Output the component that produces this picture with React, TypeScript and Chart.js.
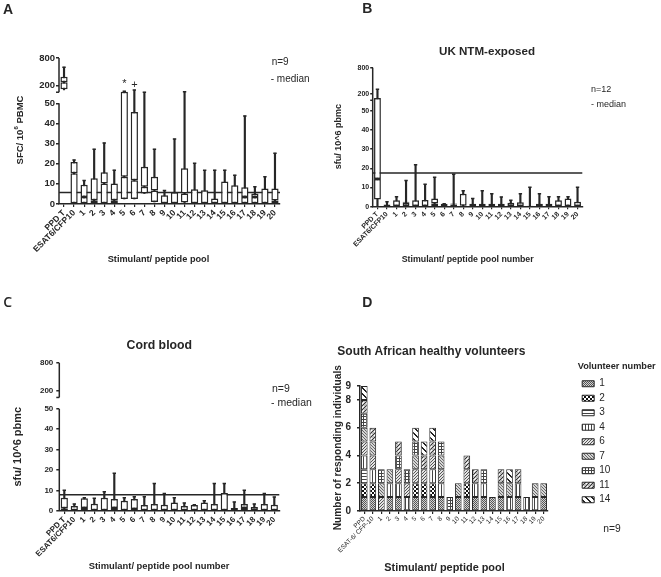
import React, { useEffect, useRef } from 'react';
import { Chart, registerables, LinearScale } from 'chart.js';

Chart.register(...registerables);

const FONT = "'Liberation Sans', Arial, Helvetica, sans-serif";
const INK = '#262626';

// ---------- shared categories / ticks ----------
const POOLS = ['1', '2', '3', '4', '5', '6', '7', '8', '9', '10', '11', '12', '13', '14', '15', '16', '17', '18', '19', '20'];
const LABELS_ABC = ['PPD T', 'ESAT6/CFP10', ...POOLS];
const LABELS_D = ['PPD', 'ESAT-6/ CFP-10', ...POOLS];
const BROKEN_TICKS = [0, 10, 20, 30, 40, 50, 200, 800];
const D_TICKS = [0, 2, 4, 6, 8, 9];

// ---------- Panel A (box plots, n=9) ----------
const A_MIN = [105, 0, 0, 0, 0, 0, 2.5, 2.5, 5.2, 1.0, 0, 0, 0.7, 0, 0, 0, 0, 0, 0, 0, 0, 0];
const A_Q1 = [120, 0, 0, 0, 0, 0, 2.5, 2.5, 5.2, 1.0, 0, 0, 0.7, 0, 0, 0, 0, 0, 0, 0, 0, 0];
const A_MED = [270, 15.3, 3.5, 1.8, 10.2, 1.8, 13.5, 11.8, 8.5, 6.7, 0, 0, 5.2, 0, 0, 0, 0, 0, 3.5, 3.5, 0, 1.7];
const A_Q3 = [390, 20.8, 9.5, 12.8, 15.7, 10.2, 94, 45.7, 18.5, 13.5, 4.3, 5.8, 17.8, 7.3, 6.8, 2.7, 11.2, 9.3, 8.3, 5.2, 7.7, 7.7];
const A_MAX = [600, 21.8, 11.7, 27.2, 30.3, 16.8, 96, 100, 92, 27.2, 6.7, 32.2, 94, 20.2, 16.7, 16.8, 16.8, 14.3, 43.7, 8.5, 13.5, 25.2];
const A_CUTOFF = 5.7;

// ---------- Panel B (UK NTM-exposed, n=12) ----------
const B_MIN = [0, 0, 0, 0, 0, 0, 0, 0, 0, 0, 0, 0, 0, 0, 0, 0, 0, 0, 0, 0, 0, 0];
const B_Q1 = [3.7, 0, 0, 0, 0, 0, 0, 0, 0, 0, 0, 0, 0, 0, 0, 0, 0, 0, 0, 0, 0, 0];
const B_MED = [14.4, 0, 0, 2.0, 0, 0, 1.7, 0, 1.2, 0.5, 0, 0, 0, 0, 0, 0, 0, 0, 0, 0, 0, 0];
const B_Q3 = [105, 1.2, 3.3, 2.6, 3.3, 3.5, 4.3, 1.6, 1.7, 6.8, 1.6, 1.6, 1.6, 1.6, 2.1, 2.3, 0.5, 1.6, 1.6, 3.3, 4.3, 2.6];
const B_MAX = [307, 2.6, 5.2, 13.6, 21.9, 11.7, 15.3, 1.6, 16.9, 8.3, 4.3, 8.3, 6.8, 5.0, 3.3, 6.8, 10.1, 6.8, 5.2, 5.2, 5.2, 10.1];
const B_CUTOFF = 17.6;

// ---------- Panel C (Cord blood, n=9) ----------
const C_MIN = [0, 0, 0, 0, 0, 0, 0, 0, 0, 0, 0, 0, 0, 0, 0, 0, 0, 0, 0, 0, 0, 0];
const C_Q1 = [0, 0, 0, 0, 0, 0, 0, 0, 0, 0, 0, 0, 0, 0, 0, 0, 0, 0, 0, 0, 0, 0];
const C_MED = [1.3, 0, 1.5, 0, 0, 1.5, 0, 1.0, 0, 0, 0, 0, 0, 0, 0, 0, 0, 0, 1.5, 0, 0, 0];
const C_Q3 = [6.5, 2.4, 6.2, 3.6, 6.5, 5.9, 5.0, 5.9, 2.9, 3.4, 3.1, 4.2, 2.4, 2.9, 4.1, 3.4, 8.8, 1.5, 3.4, 2.0, 3.4, 3.1];
const C_MAX = [10.1, 3.4, 6.5, 6.2, 9.4, 18.4, 6.5, 7.0, 7.0, 13.4, 8.5, 6.5, 3.9, 3.1, 5.0, 13.4, 13.4, 4.4, 10.1, 3.4, 8.5, 6.8];
const C_CUTOFF = 8.0;

// ---------- Panel D (responders per volunteer, 1 = responded) ----------
const VOLUNTEERS = ['1', '2', '3', '4', '6', '7', '10', '11', '14'];
const VOL_1 = [1, 1, 0, 1, 1, 0, 1, 1, 1, 1, 0, 1, 1, 1, 1, 1, 1, 0, 1, 0, 0, 1];
const VOL_2 = [1, 1, 0, 0, 0, 0, 1, 1, 1, 0, 0, 0, 1, 0, 0, 0, 0, 0, 0, 0, 0, 0];
const VOL_3 = [1, 0, 0, 0, 0, 0, 0, 0, 0, 0, 0, 0, 0, 0, 0, 0, 0, 0, 0, 0, 0, 0];
const VOL_4 = [1, 1, 0, 1, 1, 1, 0, 0, 1, 1, 0, 0, 0, 1, 1, 0, 0, 1, 1, 1, 1, 0];
const VOL_6 = [1, 1, 1, 0, 1, 1, 1, 1, 1, 1, 0, 0, 1, 0, 0, 0, 0, 0, 0, 0, 0, 0];
const VOL_7 = [1, 1, 1, 1, 0, 0, 1, 0, 0, 1, 0, 1, 0, 0, 0, 0, 1, 1, 0, 0, 1, 1];
const VOL_10 = [1, 0, 1, 0, 1, 1, 1, 0, 0, 1, 1, 0, 0, 0, 1, 0, 0, 0, 0, 0, 0, 0];
const VOL_11 = [1, 1, 0, 0, 1, 0, 0, 1, 1, 0, 0, 0, 1, 1, 0, 0, 1, 0, 1, 0, 0, 0];
const VOL_14 = [1, 0, 0, 0, 0, 0, 1, 1, 1, 0, 0, 0, 0, 0, 0, 0, 0, 1, 0, 0, 0, 0];
const VOL_DATA = [VOL_1, VOL_2, VOL_3, VOL_4, VOL_6, VOL_7, VOL_10, VOL_11, VOL_14];
const VOL_PATTERNS = ['fine', 'checker', 'hline', 'vline', 'diagUp', 'diagDown', 'grid', 'dash', 'wide'];

// ---------- broken (segmented) y scale ----------
const BRK_LOW = 50;
const BRK_HIGH = 100;
const BRK_MAX = 800;
const F_LOW = 0.69;
const F_HIGH = 0.78;
const BRK_AXIS_RESUME = 92;

function toFrac(v: number) {
  if (v <= BRK_LOW) return (v / BRK_LOW) * F_LOW;
  if (v <= BRK_HIGH) return F_LOW + ((v - BRK_LOW) / (BRK_HIGH - BRK_LOW)) * (F_HIGH - F_LOW);
  return F_HIGH + ((v - BRK_HIGH) / (BRK_MAX - BRK_HIGH)) * (1 - F_HIGH);
}
function fromFrac(f: number) {
  if (f <= F_LOW) return (f / F_LOW) * BRK_LOW;
  if (f <= F_HIGH) return BRK_LOW + ((f - F_LOW) / (F_HIGH - F_LOW)) * (BRK_HIGH - BRK_LOW);
  return BRK_HIGH + ((f - F_HIGH) / (1 - F_HIGH)) * (BRK_MAX - BRK_HIGH);
}

class BrokenScale extends (LinearScale as any) {
  static id = 'broken';
  buildTicks() {
    this.min = 0;
    this.max = BRK_MAX;
    return BROKEN_TICKS.map((v) => ({ value: v }));
  }
  getPixelForValue(value: number) {
    if (value === null || value === undefined || Number.isNaN(value)) return NaN;
    return this.getPixelForDecimal(toFrac(value));
  }
  getValueForPixel(pixel: number) {
    return fromFrac(this.getDecimalForPixel(pixel));
  }
}
Chart.register(BrokenScale as any);

// ---------- helper plugins ----------
type Part = { t: string; sup?: boolean };
type TextItem = {
  text?: string; parts?: Part[]; x: number; y: number; size: number;
  weight?: string; family?: string; align?: 'left' | 'center' | 'right'; rot?: number;
};
type Marker = { index: number; text: string; y: number; size: number };

function makeTextPlugin(items: TextItem[], markers: Marker[] = []) {
  return {
    id: 'panelText',
    afterDraw(chart: any) {
      const ctx = chart.ctx as CanvasRenderingContext2D;
      for (const it of items) {
        ctx.save();
        ctx.translate(it.x, it.y);
        if (it.rot) ctx.rotate(it.rot);
        ctx.fillStyle = INK;
        ctx.textBaseline = 'middle';
        ctx.textAlign = 'left';
        const fam = it.family || FONT;
        const w = it.weight || 'normal';
        const parts = it.parts || [{ t: it.text || '' }];
        const fontFor = (p: Part) => `${w} ${p.sup ? it.size * 0.65 : it.size}px ${fam}`;
        let total = 0;
        for (const p of parts) { ctx.font = fontFor(p); total += ctx.measureText(p.t).width; }
        let cx = it.align === 'center' ? -total / 2 : it.align === 'right' ? -total : 0;
        for (const p of parts) {
          ctx.font = fontFor(p);
          ctx.fillText(p.t, cx, p.sup ? -it.size * 0.38 : 0);
          cx += ctx.measureText(p.t).width;
        }
        ctx.restore();
      }
      for (const m of markers) {
        const x = chart.scales.x.getPixelForValue(m.index);
        ctx.save();
        ctx.fillStyle = INK;
        ctx.font = `${m.size}px ${FONT}`;
        ctx.textAlign = 'center';
        ctx.textBaseline = 'middle';
        ctx.fillText(m.text, x, m.y);
        ctx.restore();
      }
    },
  };
}

function makeCutoffPlugin(value: number) {
  return {
    id: 'cutoffLine',
    beforeDatasetsDraw(chart: any) {
      const { ctx, chartArea } = chart;
      const y = chart.scales.y.getPixelForValue(value);
      ctx.save();
      ctx.strokeStyle = INK;
      ctx.lineWidth = 1.5;
      ctx.beginPath();
      ctx.moveTo(chartArea.left, y);
      ctx.lineTo(chartArea.right, y);
      ctx.stroke();
      ctx.restore();
    },
  };
}

function makeAxisPlugin(broken: boolean, tick: number) {
  return {
    id: 'brokenAxis',
    afterDatasetsDraw(chart: any) {
      const { ctx, chartArea } = chart;
      const ys = chart.scales.y;
      const x = chartArea.left;
      ctx.save();
      ctx.strokeStyle = INK;
      ctx.lineWidth = 1.5;
      const seg = (a: number, b: number) => {
        ctx.beginPath();
        ctx.moveTo(x, ys.getPixelForValue(a));
        ctx.lineTo(x, ys.getPixelForValue(b));
        ctx.stroke();
      };
      if (broken) { seg(0, BRK_LOW); seg(BRK_AXIS_RESUME, BRK_MAX); } else { seg(0, BRK_MAX); }
      const py = ys.getPixelForValue(BRK_AXIS_RESUME);
      ctx.beginPath();
      ctx.moveTo(x - tick, py);
      ctx.lineTo(x, py);
      ctx.stroke();
      ctx.restore();
    },
  };
}

// ---------- box plot config ----------
type BoxPanel = {
  min: number[]; q1: number[]; med: number[]; q3: number[]; max: number[]; cutoff: number;
  yWidth: number; xHeight: number; padTop: number; padRight: number;
  yTickSize: number; xTickSize: number; tickLen: number; yPad: number;
  broken: boolean; texts: TextItem[]; markers?: Marker[];
};

function boxConfig(p: BoxPanel): any {
  const boxCommon = {
    type: 'bar', backgroundColor: '#ffffff', borderColor: INK, borderWidth: 1.5,
    borderSkipped: false, grouped: false, barPercentage: 0.72, categoryPercentage: 1, order: 2,
  };
  return {
    type: 'bar',
    data: {
      labels: LABELS_ABC,
      datasets: [
        { type: 'bar', label: 'range', data: p.min.map((m, i) => [m, p.max[i]]), backgroundColor: INK, borderWidth: 0, barThickness: 1.5, grouped: false, order: 3 },
        { ...boxCommon, label: 'Q1-median', data: p.q1.map((v, i) => [v, p.med[i]]) },
        { ...boxCommon, label: 'median-Q3', data: p.med.map((v, i) => [v, p.q3[i]]) },
        { type: 'line', label: 'max', data: p.max, showLine: false, pointStyle: 'line', pointRadius: 1.7, pointHoverRadius: 1.7, pointBorderWidth: 1.5, pointBorderColor: INK, pointBackgroundColor: INK, order: 1 },
      ],
    },
    options: {
      responsive: false, animation: false, devicePixelRatio: 1, events: [],
      layout: { padding: { top: p.padTop, right: p.padRight, left: 0, bottom: 0 } },
      plugins: { legend: { display: false }, tooltip: { enabled: false }, title: { display: false } },
      scales: {
        x: {
          type: 'category', offset: true,
          grid: { display: true, drawOnChartArea: false, drawTicks: true, tickLength: p.tickLen, offset: false, color: INK, lineWidth: 1.2 },
          border: { display: true, color: INK, width: 1.5 },
          ticks: { autoSkip: false, minRotation: 45, maxRotation: 45, padding: 1, color: INK, font: { size: p.xTickSize, weight: 'bold', family: FONT } },
          afterFit: (s: any) => { s.height = p.xHeight; },
        },
        y: {
          type: 'broken', min: 0, max: BRK_MAX,
          grid: { display: true, drawOnChartArea: false, drawTicks: true, tickLength: p.tickLen, color: INK, lineWidth: 1.5 },
          border: { display: false },
          ticks: { autoSkip: false, padding: p.yPad, color: INK, font: { size: p.yTickSize, weight: 'bold', family: FONT }, callback: (v: number) => String(v) },
          afterFit: (s: any) => { s.width = p.yWidth; },
        },
      },
    },
    plugins: [makeCutoffPlugin(p.cutoff), makeAxisPlugin(p.broken, p.tickLen), makeTextPlugin(p.texts, p.markers || [])],
  };
}

const HALF_PI = Math.PI / 2;

function configA() {
  return boxConfig({
    min: A_MIN, q1: A_Q1, med: A_MED, q3: A_Q3, max: A_MAX, cutoff: A_CUTOFF,
    yWidth: 59, xHeight: 86, padTop: 58, padRight: 50,
    yTickSize: 9.5, xTickSize: 8.5, tickLen: 3, yPad: 1, broken: true,
    texts: [
      { text: 'A', x: 3, y: 10, size: 14, weight: 'bold' },
      { parts: [{ t: 'SFC/ 10' }, { t: '6', sup: true }, { t: ' PBMC' }], x: 20, y: 130, size: 9.5, weight: 'bold', align: 'center', rot: -HALF_PI },
      { text: 'Stimulant/ peptide pool', x: 158.5, y: 259, size: 9.2, weight: 'bold', align: 'center' },
      { text: 'n=9', x: 271.7, y: 62.3, size: 10 },
      { text: '- median', x: 270.7, y: 79, size: 10 },
    ],
    markers: [
      { index: 6, text: '*', y: 84, size: 11 },
      { index: 7, text: '+', y: 84.5, size: 11 },
    ],
  });
}

function configB() {
  return boxConfig({
    min: B_MIN, q1: B_Q1, med: B_MED, q3: B_Q3, max: B_MAX, cutoff: B_CUTOFF,
    yWidth: 42.7, xHeight: 83.3, padTop: 67.7, padRight: 78.7,
    yTickSize: 7, xTickSize: 7, tickLen: 2.5, yPad: 1, broken: false,
    texts: [
      { text: 'B', x: 32.3, y: 9, size: 14, weight: 'bold' },
      { text: 'UK NTM-exposed', x: 157, y: 51.7, size: 11.6, weight: 'bold', align: 'center' },
      { text: 'sfu/ 10^6 pbmc', x: 8.3, y: 136.7, size: 9, weight: 'bold', align: 'center', rot: -HALF_PI },
      { text: 'Stimulant/ peptide pool number', x: 137.7, y: 260, size: 8.8, weight: 'bold', align: 'center' },
      { text: 'n=12', x: 261, y: 89.3, size: 9 },
      { text: '- median', x: 261, y: 104.3, size: 9 },
    ],
  });
}

function configC() {
  return boxConfig({
    min: C_MIN, q1: C_Q1, med: C_MED, q3: C_Q3, max: C_MAX, cutoff: C_CUTOFF,
    yWidth: 59.3, xHeight: 66, padTop: 72.7, padRight: 50.7,
    yTickSize: 8, xTickSize: 8, tickLen: 3, yPad: 3, broken: true,
    texts: [
      { text: 'C', x: 3.3, y: 13, size: 14, weight: '600', family: "'Open Sans', sans-serif" },
      { text: 'Cord blood', x: 159.3, y: 56, size: 12.3, weight: 'bold', align: 'center' },
      { text: 'sfu/ 10^6 pbmc', x: 18.3, y: 156.7, size: 11, weight: 'bold', align: 'center', rot: -HALF_PI },
      { text: 'Stimulant/ peptide pool number', x: 159, y: 276.7, size: 9.4, weight: 'bold', align: 'center' },
      { text: 'n=9', x: 272, y: 99, size: 10.5 },
      { text: '- median', x: 271, y: 113.3, size: 10.5 },
    ],
  });
}

// ---------- fill patterns for panel D ----------
function makePattern(ctx: CanvasRenderingContext2D, kind: string): CanvasPattern | string {
  const tile = document.createElement('canvas');
  const sizes: Record<string, number> = { fine: 2, checker: 4, hline: 3, vline: 3, diagUp: 3, diagDown: 3, grid: 3, dash: 4, wide: 6 };
  const n = sizes[kind] || 4;
  tile.width = n; tile.height = n;
  const t = tile.getContext('2d')!;
  const rect = (x: number, y: number, w: number, h: number, c: string) => { t.fillStyle = c; t.fillRect(x, y, w, h); };
  switch (kind) {
    case 'fine': rect(0, 0, 2, 2, '#d2d2d2'); rect(0, 0, 1, 1, '#555'); rect(1, 1, 1, 1, '#555'); break;
    case 'checker': rect(0, 0, 4, 4, '#fff'); rect(0, 0, 2, 2, '#111'); rect(2, 2, 2, 2, '#111'); break;
    case 'hline': rect(0, 0, 3, 3, '#fff'); rect(0, 0, 3, 1, '#444'); break;
    case 'vline': rect(0, 0, 3, 3, '#fff'); rect(0, 0, 1, 3, '#444'); break;
    case 'diagUp': rect(0, 0, 3, 3, '#e4e4e4'); rect(2, 0, 1, 1, '#555'); rect(1, 1, 1, 1, '#555'); rect(0, 2, 1, 1, '#555'); break;
    case 'diagDown': rect(0, 0, 3, 3, '#d6d6d6'); rect(0, 0, 1, 1, '#666'); rect(1, 1, 1, 1, '#666'); rect(2, 2, 1, 1, '#666'); break;
    case 'grid': rect(0, 0, 3, 3, '#fff'); rect(0, 0, 3, 1, '#444'); rect(0, 0, 1, 3, '#444'); break;
    case 'dash': rect(0, 0, 4, 4, '#bdbdbd'); rect(3, 0, 1, 1, '#333'); rect(2, 1, 1, 1, '#333'); rect(1, 2, 1, 1, '#333'); rect(0, 3, 1, 1, '#333'); rect(1, 0, 1, 1, '#fff'); rect(0, 1, 1, 1, '#fff'); break;
    case 'wide':
      rect(0, 0, 6, 6, '#fff');
      for (let i = 0; i < 6; i++) { rect(i, i, 1, 1, '#222'); rect((i + 1) % 6, i, 1, 1, '#222'); }
      break;
    default: rect(0, 0, n, n, '#999');
  }
  return ctx.createPattern(tile, 'repeat') || '#999';
}

function configD(ctx: CanvasRenderingContext2D): any {
  return {
    type: 'bar',
    data: {
      labels: LABELS_D,
      datasets: VOLUNTEERS.map((name, i) => ({
        label: name,
        data: VOL_DATA[i].map((r) => (r ? r : null)),
        backgroundColor: makePattern(ctx, VOL_PATTERNS[i]),
        borderColor: INK, borderWidth: 1, borderSkipped: false,
        barPercentage: 0.78, categoryPercentage: 1,
      })),
    },
    options: {
      responsive: false, animation: false, devicePixelRatio: 1, events: [],
      layout: { padding: { left: 7.3, top: 40, right: 40.7, bottom: 0 } },
      plugins: {
        tooltip: { enabled: false },
        title: {
          display: true, text: 'South African healthy volunteers', align: 'start', color: INK,
          font: { size: 12, weight: 'bold', family: FONT, lineHeight: 1.2 },
          padding: { top: 14.5, bottom: 27.1 },
        },
        legend: {
          display: true, position: 'right', align: 'start',
          title: {
            display: true, text: ' ', position: 'start', color: INK,
            font: { size: 9.2, weight: 'bold', family: FONT, lineHeight: 1.2 },
            padding: { top: 32.1, bottom: 1.1 },
          },
          labels: { boxWidth: 12, boxHeight: 6, padding: 4.5, color: INK, font: { size: 10, family: FONT } },
        },
      },
      scales: {
        x: {
          stacked: true, offset: true,
          grid: { display: true, drawOnChartArea: false, drawTicks: true, tickLength: 3, offset: false, color: INK, lineWidth: 1.2 },
          border: { display: true, color: INK, width: 1.5 },
          ticks: { autoSkip: false, minRotation: 45, maxRotation: 45, padding: 1, color: INK, font: { size: 6.5, family: FONT } },
          afterFit: (s: any) => { s.height = 66; },
        },
        y: {
          stacked: true, min: 0, max: 9,
          grid: { display: true, drawOnChartArea: false, drawTicks: true, tickLength: 3, color: INK, lineWidth: 1.5 },
          border: { display: true, color: INK, width: 1.5 },
          ticks: { autoSkip: false, padding: 6, color: INK, font: { size: 10, weight: 'bold', family: FONT } },
          afterBuildTicks: (s: any) => { s.ticks = D_TICKS.map((v) => ({ value: v })); },
          afterFit: (s: any) => { s.width = 22.7; },
        },
        spacer: {
          type: 'linear', position: 'right', display: true,
          grid: { display: false }, ticks: { display: false }, border: { display: false },
          afterFit: (s: any) => { s.width = 29.7; },
        },
      },
    },
    plugins: [makeTextPlugin([
      { text: 'D', x: 32.3, y: 13, size: 14, weight: 'bold' },
      { text: 'Number of responding individuals', x: 8.3, y: 157.7, size: 10.2, weight: 'bold', align: 'center', rot: -HALF_PI },
      { text: 'Stimulant/ peptide pool', x: 114.5, y: 278, size: 10.9, weight: 'bold', align: 'center' },
      { text: 'Volunteer number', x: 247.7, y: 76.7, size: 9.2, weight: 'bold' },
      { text: 'n=9', x: 273.3, y: 239.3, size: 10.3 },
    ])],
  };
}

// ---------- components ----------
type PanelProps = { left: number; top: number; width: number; height: number; build: (ctx: CanvasRenderingContext2D) => any };

function ChartPanel({ left, top, width, height, build }: PanelProps) {
  const ref = useRef<HTMLCanvasElement | null>(null);
  useEffect(() => {
    const canvas = ref.current;
    if (!canvas) return;
    const ctx = canvas.getContext('2d')!;
    const chart = new Chart(canvas, build(ctx));
    return () => chart.destroy();
  }, []);
  return (
    <canvas
      ref={ref}
      width={width}
      height={height}
      style={{ position: 'absolute', left, top, width, height, display: 'block' }}
    />
  );
}

export default function App() {
  Chart.defaults.font.family = FONT;
  Chart.defaults.color = INK;
  return (
    <div style={{ position: 'absolute', left: 0, top: 0, width: 661, height: 577, background: '#ffffff', overflow: 'hidden' }}>
      <ChartPanel left={0} top={0} width={330} height={290} build={() => configA()} />
      <ChartPanel left={330} top={0} width={331} height={290} build={() => configB()} />
      <ChartPanel left={0} top={290} width={330} height={287} build={() => configC()} />
      <ChartPanel left={330} top={290} width={331} height={287} build={(ctx) => configD(ctx)} />
    </div>
  );
}
